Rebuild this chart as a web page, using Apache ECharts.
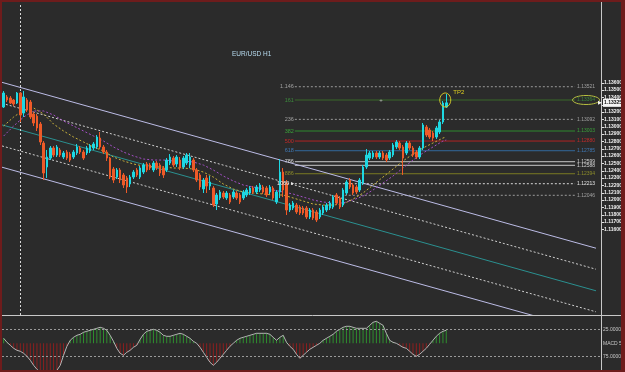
<!DOCTYPE html>
<html><head><meta charset="utf-8">
<script src="https://cdn.jsdelivr.net/npm/echarts@6/dist/echarts.min.js"></script>
<style>html,body{margin:0;padding:0;background:#2b2b2b;}#c{width:625px;height:372px;}</style>
</head><body><div id="c"></div>
<script>
// ---------- data ----------
const barLabels = Array.from({length: 180}, (_, i) => 'H' + i);
const opens = [
1.13268,1.13405,1.13391,1.13364,1.13323,1.13459,1.13186,1.13364,1.13336,1.13173,
1.13145,1.13036,1.12777,1.12450,1.12572,1.12709,1.12613,1.12682,1.12586,1.12654,
1.12627,1.12586,1.12641,1.12709,1.12654,1.12641,1.12668,1.12709,1.12723,1.12845,
1.12723,1.12654,1.12572,1.12422,1.12313,1.12409,1.12341,1.12300,1.12218,1.12313,
1.12409,1.12313,1.12381,1.12491,1.12477,1.12409,1.12504,1.12477,1.12436,1.12409,
1.12504,1.12572,1.12491,1.12545,1.12450,1.12504,1.12477,1.12545,1.12409,1.12341,
1.12150,1.12300,1.12190,1.12163,1.11945,1.12027,1.12095,1.12027,1.12068,1.12040,
1.12095,1.12068,1.12027,1.12068,1.12095,1.12163,1.12109,1.12136,1.12177,1.12163,
1.12109,1.12163,1.11972,1.12109,1.12381,1.12231,1.11863,1.11890,1.11931,1.11904,
1.11890,1.11890,1.11768,1.11863,1.11836,1.11768,1.11822,1.11863,1.11890,1.11904,
1.12068,1.12027,1.11931,1.12095,1.12272,1.12204,1.12177,1.12136,1.12231,1.12450,
1.12572,1.12586,1.12641,1.12586,1.12641,1.12613,1.12572,1.12613,1.12723,1.12777,
1.12723,1.12641,1.12777,1.12709,1.12654,1.12586,1.12709,1.12995,1.12954,1.12914,
1.12859,1.12927,1.13064,1.13268];
const closes = [
1.13459,1.13364,1.13323,1.13309,1.13459,1.13159,1.13405,1.13227,1.13132,1.13050,
1.12982,1.12791,1.12368,1.12586,1.12709,1.12613,1.12723,1.12613,1.12641,1.12572,
1.12545,1.12654,1.12723,1.12654,1.12572,1.12709,1.12736,1.12764,1.12859,1.12723,
1.12654,1.12572,1.12313,1.12272,1.12409,1.12272,1.12204,1.12177,1.12313,1.12381,
1.12341,1.12436,1.12477,1.12409,1.12436,1.12504,1.12436,1.12368,1.12341,1.12545,
1.12586,1.12477,1.12586,1.12436,1.12572,1.12613,1.12586,1.12409,1.12272,1.12177,
1.12272,1.12190,1.12245,1.11931,1.12068,1.12109,1.12040,1.12095,1.11972,1.12109,
1.12027,1.11972,1.12109,1.12136,1.12163,1.12109,1.12177,1.12204,1.12109,1.12068,
1.12177,1.12027,1.12109,1.12381,1.12136,1.11863,1.11931,1.11959,1.11836,1.11822,
1.11822,1.11768,1.11863,1.11754,1.11727,1.11863,1.11904,1.11931,1.11959,1.12040,
1.11959,1.11904,1.12136,1.12245,1.12177,1.12095,1.12109,1.12272,1.12450,1.12613,
1.12641,1.12641,1.12586,1.12641,1.12572,1.12545,1.12654,1.12750,1.12791,1.12709,
1.12572,1.12777,1.12709,1.12613,1.12586,1.12709,1.13023,1.12886,1.12859,1.12845,
1.12982,1.13064,1.13323,1.13325];
const highs = [
1.13486,1.13432,1.13418,1.13377,1.13473,1.13473,1.13486,1.13391,1.13364,1.13200,
1.13173,1.13064,1.12804,1.12682,1.12736,1.12736,1.12750,1.12709,1.12668,1.12682,
1.12654,1.12682,1.12764,1.12736,1.12682,1.12736,1.12764,1.12791,1.12886,1.12927,
1.12750,1.12682,1.12586,1.12450,1.12436,1.12436,1.12368,1.12327,1.12341,1.12409,
1.12436,1.12463,1.12504,1.12518,1.12504,1.12532,1.12532,1.12504,1.12463,1.12572,
1.12627,1.12600,1.12613,1.12586,1.12600,1.12641,1.12641,1.12572,1.12436,1.12368,
1.12300,1.12341,1.12327,1.12190,1.12095,1.12136,1.12122,1.12122,1.12095,1.12136,
1.12122,1.12095,1.12136,1.12163,1.12190,1.12190,1.12204,1.12231,1.12204,1.12190,
1.12204,1.12190,1.12136,1.12559,1.12436,1.12272,1.11959,1.11986,1.11959,1.11931,
1.11918,1.11918,1.11890,1.11890,1.11863,1.11890,1.11931,1.11959,1.11986,1.12068,
1.12095,1.12054,1.12163,1.12272,1.12300,1.12231,1.12204,1.12300,1.12477,1.12695,
1.12668,1.12668,1.12668,1.12668,1.12668,1.12641,1.12682,1.12777,1.12818,1.12804,
1.12750,1.12804,1.12804,1.12736,1.12682,1.12736,1.13050,1.13023,1.12982,1.12941,
1.13009,1.13091,1.13350,1.13446];
const lows = [
1.13255,1.13336,1.13309,1.13282,1.13309,1.13064,1.13132,1.13200,1.13105,1.13009,
1.12941,1.12750,1.12272,1.12300,1.12545,1.12586,1.12586,1.12586,1.12559,1.12545,
1.12518,1.12559,1.12613,1.12627,1.12545,1.12613,1.12641,1.12682,1.12695,1.12695,
1.12627,1.12532,1.12286,1.12231,1.12286,1.12231,1.12163,1.12095,1.12177,1.12286,
1.12313,1.12286,1.12354,1.12381,1.12409,1.12381,1.12409,1.12327,1.12300,1.12381,
1.12477,1.12450,1.12450,1.12409,1.12422,1.12477,1.12436,1.12381,1.12245,1.12136,
1.12095,1.12095,1.12136,1.11904,1.11863,1.12000,1.12013,1.12000,1.11945,1.12013,
1.12000,1.11945,1.12000,1.12040,1.12068,1.12081,1.12081,1.12109,1.12081,1.12040,
1.12081,1.12000,1.11945,1.12027,1.12040,1.11795,1.11836,1.11863,1.11809,1.11795,
1.11795,1.11740,1.11740,1.11727,1.11699,1.11740,1.11795,1.11836,1.11863,1.11877,
1.11931,1.11877,1.11904,1.12068,1.12150,1.12068,1.12081,1.12109,1.12204,1.12422,
1.12545,1.12559,1.12559,1.12559,1.12545,1.12518,1.12545,1.12586,1.12695,1.12682,
1.12341,1.12613,1.12682,1.12586,1.12559,1.12559,1.12682,1.12859,1.12832,1.12804,
1.12832,1.12900,1.13036,1.13255];
// moving averages read at sampled bars
const maIndex = [0,3,6,9,12,15,18,21,24,27,30,33,36,39,42,45,48,51,54,57,60,63,66,69,72,75,78,81,84,87,90,93,96,99,102,105,108,111,114,117,120,123,126,129,132,133];
const maYellow = [1.13009,1.13132,1.13227,1.13255,1.13173,1.13036,1.12941,1.12859,1.12791,1.12723,1.12668,1.12586,1.12532,1.12491,1.12463,1.12450,1.12450,1.12436,1.12436,1.12422,1.12381,1.12313,1.12218,1.12150,1.12109,1.12095,1.12081,1.12068,1.12068,1.12027,1.11986,1.11945,1.11931,1.11931,1.11945,1.12013,1.12095,1.12204,1.12313,1.12422,1.12532,1.12627,1.12709,1.12777,1.12845,1.12859];
const maPurple = [1.12873,1.13009,1.13132,1.13214,1.13214,1.13159,1.13077,1.13009,1.12941,1.12873,1.12804,1.12723,1.12654,1.12600,1.12559,1.12545,1.12545,1.12532,1.12532,1.12518,1.12477,1.12409,1.12327,1.12259,1.12204,1.12177,1.12150,1.12136,1.12109,1.12081,1.12040,1.12000,1.11972,1.11959,1.11959,1.12000,1.12054,1.12136,1.12231,1.12327,1.12436,1.12545,1.12641,1.12723,1.12804,1.12818];
// MACD histogram (one value per bar)
const macd = [5,1,-2,-5,-7,-8,-10,-13,-17,-22,-26,-29,-31,-31,-30,-29,-27,-22,-12,-3,
3,6,8,9,11,12,13,14,15,16,15,13,8,2,-5,-10,-12,-9,-7,-4,
-2,4,9,12,13,14,13,11,8,7,7,8,9,10,9,7,5,2,0,-4,
-9,-14,-19,-22,-19,-15,-11,-7,-3,0,3,5,6,7,8,9,10,10,10,10,
9,6,3,6,8,1,-3,-6,-11,-15,-12,-9,-6,-4,-2,0,3,5,7,9,
12,14,16,17,17,16,15,15,15,15,18,21,22,20,18,10,3,1,0,-2,
-4,-5,-8,-11,-13,-11,-8,-5,-1,3,7,10,12,13];
const macdLevels = [14, 0, -13.4];
const macdLevelText = ['25.00000', 'MACD 5,34,5', '75.00000'];
// price axis
const priceTicks = [1.116,1.117,1.118,1.119,1.120,1.121,1.122,1.123,1.124,1.125,1.126,1.127,1.128,1.129,1.130,1.131,1.132,1.133,1.134,1.135,1.136];
const priceMin = 1.104308, priceMax = 1.146873;
const lastPrice = 1.13325;
// channel trend lines [startBar, startPrice, endBar, endPrice]
const channelLines = [
  [-0.5, 1.13605, 178, 1.11342],
  [-0.5, 1.13319, 178, 1.11055],
  [-0.5, 1.13024, 178, 1.10761],
  [-0.5, 1.12737, 178, 1.10474],
  [-0.5, 1.12447, 178, 1.10184]
];
// fibonacci / horizontal levels
const fibPrices = [1.13545,1.13364,1.13100,1.12941,1.12804,1.12672,1.12522,1.12473,1.12358,1.12222,1.12064];
const fibLeft = ['1.146','161','236','382','500','618','786','','886','1000 \u25B8',''];
const fibRight = ['1.13521','1.13364','1.13092','1.13003','1.12880','1.12785','1.12599','1.12588','1.12394','1.12213','1.12046'];
const fibStart = [87.5,87.5,87.5,87.5,87.5,87.5,87.5,87.5,87.5,87.5,102.5];
const fibEnd = 171.7;
const markerBar = 5;
const tpBar = 133, tpPrice = 1.13364;

// ---------- styles ----------
const FONT = '"Liberation Sans", Arial, sans-serif';
const fibColors = ['#a0a0a0','#3c8a3c','#a0a0a0','#3aa03a','#c42a2a','#3f78b4','#d2d2d2','#d2d2d2','#8c8c2a','#e6e6e6','#a0a0a0'];
const fibLine = ['#9a9a9a','#3a6a2a','#9a9a9a','#2f8a2f','#b02222','#33689c','#c8c8c8','#c8c8c8','#7a7a22','#d8d8d8','#9a9a9a'];
const fibType = ['dotted','solid','dotted','solid','solid','solid','solid','solid','solid','dotted','dotted'];
const chanColor = ['#bcbce6','#d0d0d0','#2a9090','#d0d0d0','#bcbce6'];
const chanType = ['solid',[2,2],'solid',[2,2],'solid'];

const candleData = opens.map((o, i) => [o, closes[i], lows[i], highs[i]]);
const series = [];
series.push({
  type: 'candlestick', xAxisIndex: 0, yAxisIndex: 0, data: candleData, barWidth: 2,
  itemStyle: {color: '#1ed8e2', color0: '#ee5a28', borderColor: '#1ed8e2', borderColor0: '#ee5a28', borderWidth: 1},
  markLine: {silent: true, symbol: 'none', label: {show: false},
    lineStyle: {color: '#d8d8d8', type: [2, 2], width: 1},
    data: [{xAxis: barLabels[markerBar]}]},
  z: 5
});
channelLines.forEach((c, k) => series.push({
  type: 'line', xAxisIndex: 1, yAxisIndex: 0, data: [[c[0], c[1]], [c[2], c[3]]],
  symbol: 'none', clip: true, lineStyle: {color: chanColor[k], width: 1, type: chanType[k]}, z: 2
}));
series.push({type: 'line', xAxisIndex: 1, yAxisIndex: 0, data: maIndex.map((b, i) => [b, maYellow[i]]),
  symbol: 'none', lineStyle: {color: '#c9b23c', width: 1, type: [2, 2]}, z: 3});
series.push({type: 'line', xAxisIndex: 1, yAxisIndex: 0, data: maIndex.map((b, i) => [b, maPurple[i]]),
  symbol: 'none', lineStyle: {color: '#a24fc4', width: 1, type: [2, 2]}, z: 3});
fibPrices.forEach((p, k) => series.push({
  type: 'line', xAxisIndex: 1, yAxisIndex: 0, data: [[fibStart[k], p], [fibEnd, p]],
  symbol: 'none', lineStyle: {color: fibLine[k], width: 1, type: fibType[k] === 'dotted' ? [2, 2] : 'solid'}, z: 1
}));
series.push({
  type: 'bar', xAxisIndex: 2, yAxisIndex: 1, barWidth: 1, clip: true,
  data: macd.map(v => ({value: v, itemStyle: {color: v >= 0 ? '#2f8f2f' : '#8e1f1f'}})),
  markLine: {silent: true, symbol: 'none', label: {show: false},
    lineStyle: {color: '#9a9a9a', type: [2, 2], width: 1},
    data: [{yAxis: macdLevels[0]}, {yAxis: macdLevels[2]}]}
});
series.push({type: 'line', xAxisIndex: 2, yAxisIndex: 1, data: macd, symbol: 'none',
  lineStyle: {color: '#b4b4b4', width: 1}, clip: true});

const option = {
  animation: false,
  backgroundColor: '#2b2b2b',
  grid: [
    {left: 2, top: 3, width: 599, height: 312, containLabel: false, outerBoundsMode: 'none'},
    {left: 2, top: 316, width: 599, height: 54, containLabel: false, outerBoundsMode: 'none'}
  ],
  xAxis: [
    {type: 'category', gridIndex: 0, data: barLabels, show: false},
    {type: 'value', gridIndex: 0, min: -0.5, max: barLabels.length - 0.5, show: false},
    {type: 'category', gridIndex: 1, data: barLabels, show: false}
  ],
  yAxis: [
    {type: 'value', gridIndex: 0, position: 'right', min: priceMin, max: priceMax,
      axisLine: {show: false}, splitLine: {show: false}, axisTick: {show: false},
      axisLabel: {customValues: priceTicks, formatter: v => v.toFixed(5), color: '#f2f2f2',
        fontSize: 5, fontWeight: 'bold', fontFamily: FONT, margin: 3}},
    {type: 'value', gridIndex: 1, position: 'right', min: -26.7, max: 27.3,
      axisLine: {show: false}, splitLine: {show: false}, axisTick: {show: false},
      axisLabel: {customValues: macdLevels, formatter: v => macdLevelText[macdLevels.indexOf(v)] || '',
        color: '#c8c8c8', fontSize: 5, fontFamily: FONT, margin: 2}}
  ],
  series: series
};

const chart = echarts.init(document.getElementById('c'));
chart.setOption(option);

// ---------- annotations ----------
const px = v => chart.convertToPixel({xAxisIndex: 1}, v);
const py = v => chart.convertToPixel({yAxisIndex: 0}, v);
const g = [];
const txt = (x, y, s, fill, size, align, z, weight) => ({type: 'text', x: x, y: y, z: z || 50,
  style: {text: s, fill: fill, font: (weight || 'normal') + ' ' + size + 'px ' + FONT, align: align || 'left', verticalAlign: 'middle'}});
fibPrices.forEach((p, k) => {
  const y = py(p);
  if (fibLeft[k]) g.push(txt(px(fibStart[k]) - 1, y, fibLeft[k], fibColors[k], 5.5, 'right'));
  g.push(txt(px(fibEnd) + 2, y, fibRight[k], fibColors[k], 5, 'left'));
});
g.push(txt(px(113.4), py(fibPrices[1]), '+', '#bbbbbb', 6, 'center'));
// price axis tick marks
priceTicks.forEach(t => {
  const y = Math.round(py(t)) + 0.5;
  g.push({type: 'line', z: 45, shape: {x1: 602, y1: y, x2: 604, y2: y}, style: {stroke: '#e0e0e0', lineWidth: 1}});
});
// title
g.push(txt(232, 54, 'EUR/USD H1', '#b8dcf0', 6.5, 'left'));
// TP2 mark
const tx = chart.convertToPixel({xAxisIndex: 0}, barLabels[tpBar]);
const ty = py(tpPrice);
g.push({type: 'ellipse', z: 40, shape: {cx: tx - 1, cy: ty, rx: 5.5, ry: 7}, style: {fill: 'none', stroke: '#d8cc2a', lineWidth: 1}});
g.push(txt(tx + 7, ty - 8, 'TP2', '#e0d020', 6, 'left'));
// ellipse around the right label of level 2
const ey = py(fibPrices[1]);
g.push({type: 'ellipse', z: 40, shape: {cx: px(fibEnd) + 11, cy: ey, rx: 13.5, ry: 4.5}, style: {fill: 'none', stroke: '#b8c040', lineWidth: 1}});
// current price tag
const ly = py(lastPrice);
g.push({type: 'rect', z: 60, shape: {x: 603, y: ly - 4, width: 20, height: 8}, style: {fill: '#f4f4f4'}});
g.push(txt(604, ly, lastPrice.toFixed(5), '#111111', 5, 'left', 61, 'bold'));
g.push({type: 'polygon', z: 60, shape: {points: [[598, ly - 2], [602, ly], [598, ly + 2]]}, style: {fill: '#f4f4f4'}});
// separators
g.push({type: 'line', z: 45, shape: {x1: 0, y1: 315.5, x2: 625, y2: 315.5}, style: {stroke: '#c8c8c8', lineWidth: 1}});
g.push({type: 'line', z: 45, shape: {x1: 601.5, y1: 0, x2: 601.5, y2: 372}, style: {stroke: '#c8c8c8', lineWidth: 1}});
// frame
const fr = '#6e1c1c';
g.push({type: 'rect', z: 90, shape: {x: 0, y: 0, width: 625, height: 2}, style: {fill: fr}});
g.push({type: 'rect', z: 90, shape: {x: 0, y: 0, width: 2, height: 372}, style: {fill: fr}});
g.push({type: 'rect', z: 90, shape: {x: 621, y: 0, width: 4, height: 372}, style: {fill: fr}});
g.push({type: 'rect', z: 90, shape: {x: 0, y: 370, width: 625, height: 2}, style: {fill: fr}});
chart.setOption({graphic: g});
</script>
</body></html>
